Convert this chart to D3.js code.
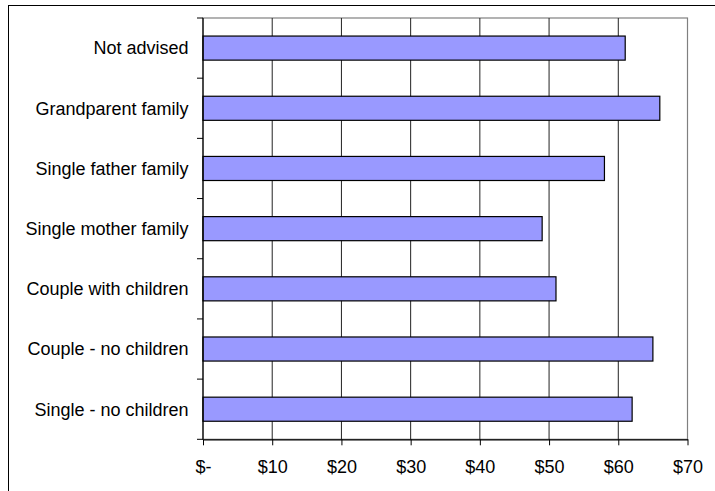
<!DOCTYPE html>
<html><head><meta charset="utf-8">
<script src="https://cdn.jsdelivr.net/npm/d3@7"></script>
<style>body{margin:0;background:#fff}svg{display:block}text{font-family:Arial,"Liberation Sans",sans-serif;fill:#000}</style>
</head><body><svg id="c" width="715" height="491"></svg>
<script>
const categories = ["Not advised","Grandparent family","Single father family","Single mother family","Couple with children","Couple - no children","Single - no children"];
const values = [61,66,58,49,51,65,62];
const xTicks = [0,10,20,30,40,50,60,70];
const xTickLabels = ["$-","$10","$20","$30","$40","$50","$60","$70"];

const svg = d3.select("#c");
const L = 203, R = 687.5, T = 18, B = 439.3;
const x = d3.scaleLinear().domain([0,70]).range([L,R]);
const y = d3.scaleBand().domain(categories).range([T,B]).paddingInner(0.6).paddingOuter(0.3);

// outer frame (only top/left visible)
svg.append("rect").attr("x",8.5).attr("y",5.5).attr("width",720).attr("height",500)
  .attr("fill","none").attr("stroke","#000").attr("stroke-width",1);

// plot border (gray)
svg.append("rect").attr("x",L).attr("y",T).attr("width",R-L).attr("height",B-T)
  .attr("fill","none").attr("stroke","#808080").attr("stroke-width",1.2);

// gridlines
svg.append("g").selectAll("line").data(xTicks.filter(d=>d>0&&d<70)).join("line")
  .attr("x1",d=>x(d)).attr("x2",d=>x(d)).attr("y1",T).attr("y2",B)
  .attr("stroke","#222").attr("stroke-width",1);

// bars
svg.append("g").selectAll("rect").data(categories).join("rect")
  .attr("x",x(0)).attr("y",d=>y(d))
  .attr("width",(d,i)=>x(values[i])-x(0)).attr("height",y.bandwidth())
  .attr("fill","#9999FF").attr("stroke","#000").attr("stroke-width",1.2);

// x axis
const xa = d3.axisBottom(x).tickValues(xTicks).tickFormat((d,i)=>xTickLabels[i]).tickSize(6).tickPadding(15).tickSizeOuter(0);
const gx = svg.append("g").attr("transform",`translate(0,${B})`).call(xa);
gx.select(".domain").attr("stroke","#000").attr("stroke-width",1.2);
gx.selectAll(".tick line").attr("stroke","#000");
gx.selectAll("text").attr("font-size","18px").attr("font-family","Arial, 'Liberation Sans', sans-serif").attr("fill","#000");

// y axis
const boundaries = d3.range(categories.length+1).map(i=>T + i*(B-T)/categories.length);
svg.append("line").attr("x1",L).attr("x2",L).attr("y1",T).attr("y2",B).attr("stroke","#000").attr("stroke-width",1.2);
svg.append("g").selectAll("line").data(boundaries).join("line")
  .attr("x1",L-6).attr("x2",L).attr("y1",d=>d).attr("y2",d=>d).attr("stroke","#000");
svg.append("g").selectAll("text").data(categories).join("text")
  .attr("x",188.5).attr("y",d=>y(d)+y.bandwidth()/2).attr("dy","0.35em")
  .attr("text-anchor","end").attr("font-size","18px").text(d=>d);
</script></body></html>
